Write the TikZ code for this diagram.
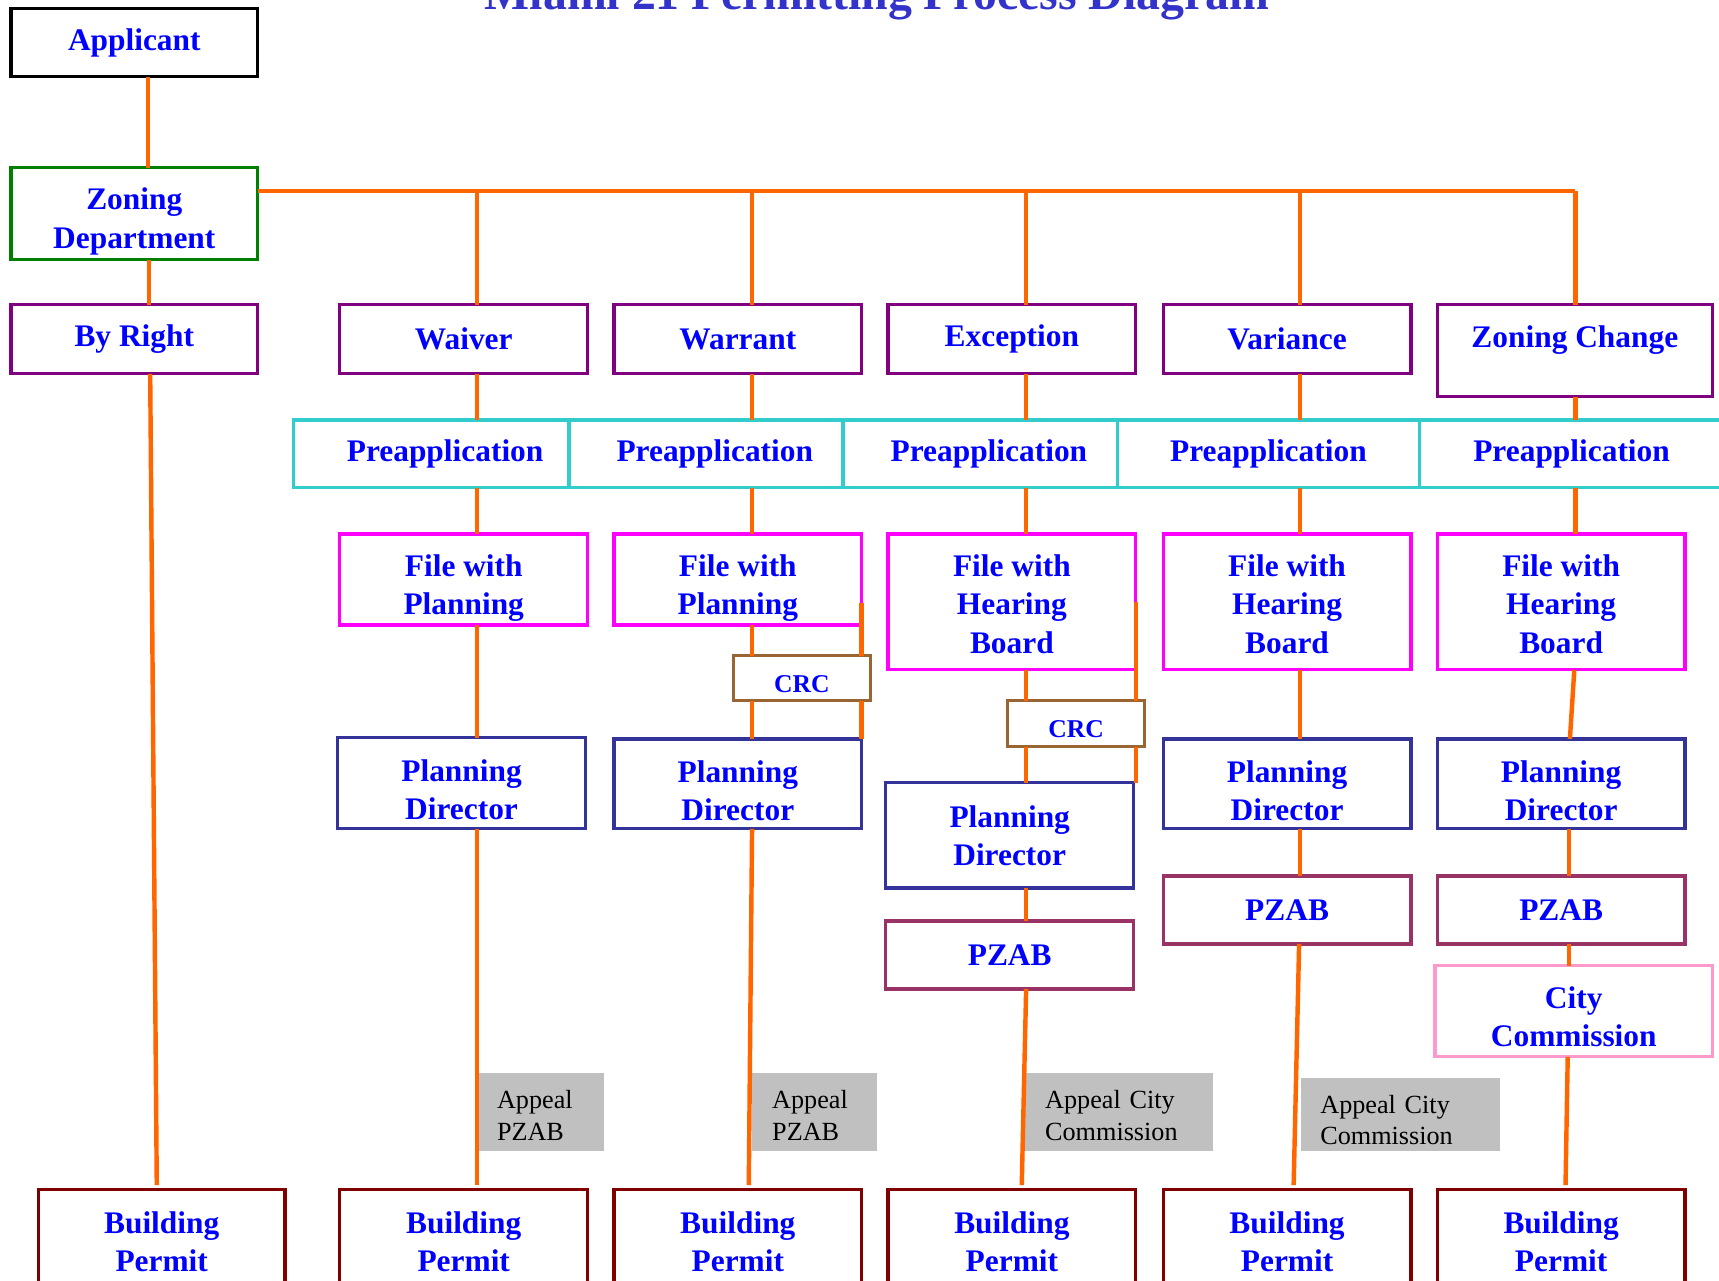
\documentclass[tikz,border=0pt]{standalone}
\usepackage{fontspec}
\setmainfont{Liberation Serif}
\usepackage{xcolor}
\usepackage{tikz}
\usetikzlibrary{
  positioning,
  calc
}
\definecolor{xorange}{RGB}{255,102,0}
\definecolor{xgreen}{RGB}{0,128,0}
\definecolor{xpurple}{RGB}{128,0,128}
\definecolor{xteal}{RGB}{51,204,204}
\definecolor{xmagenta}{RGB}{255,0,255}
\definecolor{xbrown}{RGB}{153,102,51}
\definecolor{xnavy}{RGB}{51,51,153}
\definecolor{xplum}{RGB}{153,51,102}
\definecolor{xpink}{RGB}{255,153,204}
\definecolor{xmaroon}{RGB}{128,0,0}
\definecolor{xgray}{RGB}{192,192,192}
\definecolor{xtitle}{RGB}{51,51,204}
\newlength{\unitpx}
\setlength{\unitpx}{0.02cm}
\newcommand{\lift}[1]{\rule{0pt}{#1\unitpx}}

\begin{document}
\begin{tikzpicture}[
  x=0.02cm, y=-0.02cm,
  box/.style={draw=black, fill=white, line width=1.7pt, inner sep=0pt, outer sep=0pt,
              minimum width=226\unitpx, minimum height=63\unitpx,
              font=\fontsize{16.3}{19.8}\selectfont\bfseries, text=blue, align=center},
  crcbox/.style={box, draw=xbrown, minimum width=125\unitpx, minimum height=41\unitpx,
                 font=\fontsize{13.3}{16}\selectfont\bfseries},
  note/.style={fill=xgray, anchor=west, inner xsep=18\unitpx, inner ysep=0pt,
               minimum height=71\unitpx, align=left, text=black,
               font=\fontsize{13.6}{16.4}\selectfont},
  link/.style={color=xorange, line width=2.3pt}
]
  \useasboundingbox (0,0) rectangle (1568,1168);

  \node[font=\fontsize{24.8}{30}\selectfont\bfseries, text=xtitle, anchor=base] (title) at (800,9) {Miami 21 Permitting Process Diagram};

  % top of the tree
  \node[box, minimum width=225\unitpx, minimum height=62\unitpx] (app) at (122.5,39) {Applicant};
  \node[box, draw=xgreen, minimum width=225\unitpx, minimum height=84\unitpx] (zon) at (122.5,195) {\lift{34}Zoning\\Department};
  \node[box, draw=xpurple, minimum width=225\unitpx] (byr) at (122.5,309.5) {By Right};
  \node[box, draw=xpurple] (wai) at (423,309.5)  {Waiver};
  \node[box, draw=xpurple] (war) at (673,309.5)  {Warrant};
  \node[box, draw=xpurple] (exc) at (923,309.5)  {Exception};
  \node[box, draw=xpurple] (var) at (1174,309.5) {Variance};
  \node[box, draw=xpurple, minimum width=251\unitpx, minimum height=84\unitpx, text depth=25\unitpx] (zch) at (1436.5,320) {Zoning Change};

  % preapplication row
  \node[box, draw=xteal, minimum width=251\unitpx, minimum height=62\unitpx] (pre1) at (393.5,414) {\hspace*{25\unitpx}Preapplication};
  \node[box, draw=xteal, minimum width=250\unitpx, minimum height=62\unitpx] (pre2) at (644,414)   {\hspace*{16\unitpx}Preapplication};
  \node[box, draw=xteal, minimum width=250\unitpx, minimum height=62\unitpx] (pre3) at (894,414)   {\hspace*{16\unitpx}Preapplication};
  \node[box, draw=xteal, minimum width=276\unitpx, minimum height=62\unitpx] (pre4) at (1157,414)  {Preapplication};
  \node[box, draw=xteal, minimum width=277\unitpx, minimum height=62\unitpx] (pre5) at (1433.5,414) {Preapplication};

  % filing
  \node[box, draw=xmagenta, minimum height=83\unitpx]  (fil1) at (423,528.5)  {\lift{36}File with\\Planning};
  \node[box, draw=xmagenta, minimum height=83\unitpx]  (fil2) at (673,528.5)  {\lift{36}File with\\Planning};
  \node[box, draw=xmagenta, minimum height=124\unitpx] (fil3) at (923,549)    {\lift{24}File with\\Hearing\\Board};
  \node[box, draw=xmagenta, minimum height=124\unitpx] (fil4) at (1174,549)   {\lift{24}File with\\Hearing\\Board};
  \node[box, draw=xmagenta, minimum height=124\unitpx] (fil5) at (1424,549)   {\lift{24}File with\\Hearing\\Board};

  \node[crcbox] (crc1) at (731.5,618.5) {\lift{26}CRC};
  \node[crcbox, minimum height=42\unitpx] (crc2) at (981.5,660) {\lift{26}CRC};

  % review
  \node[box, draw=xnavy, minimum height=83\unitpx] (pd1) at (421,714.5) {\lift{32}Planning\\Director};
  \node[box, draw=xnavy, minimum height=82\unitpx] (pd2) at (673,715)   {\lift{32}Planning\\Director};
  \node[box, draw=xnavy, minimum height=96\unitpx] (pd3) at (921,762)   {Planning\\Director};
  \node[box, draw=xnavy, minimum height=82\unitpx] (pd4) at (1174,715)  {\lift{32}Planning\\Director};
  \node[box, draw=xnavy, minimum height=82\unitpx] (pd5) at (1424,715)  {\lift{32}Planning\\Director};

  \node[box, draw=xplum, minimum height=62\unitpx] (pz3) at (921,871)  {PZAB};
  \node[box, draw=xplum, minimum height=62\unitpx] (pz4) at (1174,830) {PZAB};
  \node[box, draw=xplum, minimum height=62\unitpx] (pz5) at (1424,830) {PZAB};
  \node[box, draw=xpink, minimum width=253\unitpx, minimum height=83\unitpx] (cc5) at (1435.5,922.5) {\lift{30}City\\Commission};

  % appeals
  \node[note, text width=80\unitpx]  (ap1) at (435,1014.5)  {\lift{23}Appeal\\PZAB};
  \node[note, text width=78\unitpx]  (ap2) at (686,1014.5)  {\lift{23}Appeal\\PZAB};
  \node[note, text width=135\unitpx] (ap3) at (935,1014.5)  {\lift{23}Appeal City\\Commission};
  \node[note, text width=146\unitpx, minimum height=67\unitpx] (ap4) at (1186,1016.5) {\lift{27}Appeal City\\Commission};

  % permits
  \node[box, draw=xmaroon, minimum width=225\unitpx, minimum height=85\unitpx] (bp0) at (147.5,1127.5) {\lift{31}Building\\Permit};
  \node[box, draw=xmaroon, minimum height=85\unitpx] (bp1) at (423,1127.5)  {\lift{31}Building\\Permit};
  \node[box, draw=xmaroon, minimum height=85\unitpx] (bp2) at (673,1127.5)  {\lift{31}Building\\Permit};
  \node[box, draw=xmaroon, minimum height=85\unitpx] (bp3) at (923,1127.5)  {\lift{31}Building\\Permit};
  \node[box, draw=xmaroon, minimum height=85\unitpx] (bp4) at (1174,1127.5) {\lift{31}Building\\Permit};
  \node[box, draw=xmaroon, minimum height=85\unitpx] (bp5) at (1424,1127.5) {\lift{31}Building\\Permit};

  % connectors
  \coordinate (bus1) at (435,174);
  \coordinate (bus2) at (686,174);
  \coordinate (bus3) at (936,174);
  \coordinate (bus4) at (1186,174);
  \coordinate (bus5) at (1437,174);

  \draw[link] ($(app.south)+(12.5,0)$) -- ($(zon.north)+(12.5,0)$);
  \draw[link] ($(zon.south)+(13.5,0)$) -- ($(byr.north)+(13.5,0)$);
  \draw[link] ($(byr.south)+(14.5,0)$) -- ($(bp0.north)+(-4.5,-4)$);
  \draw[link] (zon.east |- bus1) -- (bus5);
  \foreach \c/\t in {bus1/wai, bus2/war, bus3/exc, bus4/var, bus5/zch}
    \draw[link] (\c) -- (\c |- \t.north);

  \foreach \a/\b in {wai/pre1, pre1/fil1, fil1/pd1}
    \draw[link] (bus1 |- \a.south) -- (bus1 |- \b.north);
  \draw[link] (bus1 |- pd1.south) -- ($(bus1 |- bp1.north)+(0,-4)$);
  \foreach \a/\b in {war/pre2, pre2/fil2, fil2/crc1, crc1/pd2}
    \draw[link] (bus2 |- \a.south) -- (bus2 |- \b.north);
  \draw[link] (bus2 |- pd2.south) -- ($(bus2 |- bp2.north)+(-3,-4)$);
  \foreach \a/\b in {exc/pre3, pre3/fil3, fil3/crc2, crc2/pd3, pd3/pz3}
    \draw[link] (bus3 |- \a.south) -- (bus3 |- \b.north);
  \draw[link] (bus3 |- pz3.south) -- ($(bus3 |- bp3.north)+(-4,-4)$);
  \foreach \a/\b in {var/pre4, pre4/fil4, fil4/pd4, pd4/pz4}
    \draw[link] (bus4 |- \a.south) -- (bus4 |- \b.north);
  \draw[link] ($(bus4 |- pz4.south)+(-1,0)$) -- ($(bus4 |- bp4.north)+(-6,-4)$);
  \foreach \a/\b in {zch/pre5, pre5/fil5}
    \draw[link] (bus5 |- \a.south) -- (bus5 |- \b.north);
  \draw[link] ($(bus5 |- fil5.south)+(-1,0)$) -- ($(bus5 |- pd5.north)+(-5,0)$);
  \foreach \a/\b in {pd5/pz5, pz5/cc5}
    \draw[link] ($(bus5 |- \a.south)+(-6,0)$) -- ($(bus5 |- \b.north)+(-6,0)$);
  \draw[link] ($(bus5 |- cc5.south)+(-7,0)$) -- ($(bus5 |- bp5.north)+(-9,-4)$);

  % side paths past the CRC
  \draw[link] ($(fil2.south east)+(0,-20)$) -- (crc1.north -| fil2.east);
  \draw[link] (crc1.south -| fil2.east) -- (pd2.north east);
  \draw[link] ($(fil3.south east)+(0,-62)$) -- (crc2.north -| fil3.east);
  \draw[link] (crc2.south -| fil3.east) -- (pd3.north -| fil3.east);
\end{tikzpicture}
\end{document}
